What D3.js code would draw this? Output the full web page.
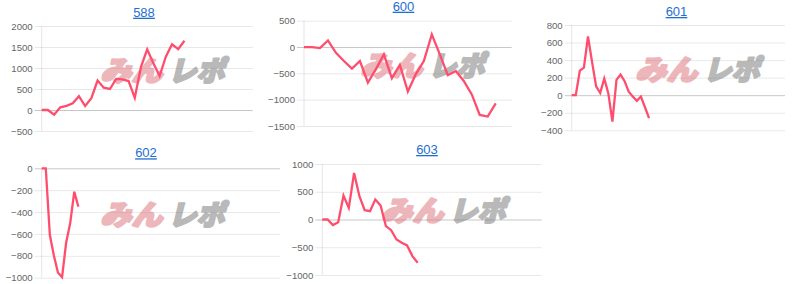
<!DOCTYPE html>
<html><head><meta charset="utf-8">
<script src="https://cdn.jsdelivr.net/npm/d3@7"></script>
<style>body{margin:0;background:#fff;} svg{display:block;}</style>
</head><body>
<svg id="c" width="800" height="284"></svg>
<script>
// ---- data ----
const titles = ["588", "600", "601", "602", "603"];
const values588 = [0, 0, -110, 65, 100, 160, 330, 95, 280, 700, 530, 500, 740, 730, 690, 290, 1030, 1445, 1110, 810, 1270, 1565, 1450, 1650];
const values600 = [0, 0, -20, 125, -110, -265, -410, -265, -675, -420, -140, -595, -340, -845, -515, -265, 240, -140, -535, -455, -645, -900, -1290, -1320, -1070];
const values601 = [0, 0, 280, 315, 670, 380, 100, 25, 190, 20, -300, 175, 235, 160, 40, -15, -65, -15, -137, -262];
const values602 = [0, 0, -610, -800, -955, -995, -680, -500, -214, -350];
const values603 = [0, 0, -100, -48, 432, 210, 840, 420, 168, 150, 360, 252, -120, -192, -360, -420, -468, -660, -780];
const ticks588 = [-500, 0, 500, 1000, 1500, 2000];
const ticks600 = [-1500, -1000, -500, 0, 500];
const ticks601 = [-400, -200, 0, 200, 400, 600, 800];
const ticks602 = [-1000, -800, -600, -400, -200, 0];
const ticks603 = [-1000, -500, 0, 500, 1000];
const watermarkA = "みん";
const watermarkB = "レポ";

// ---- layout ----
const layout = [
  {vals: values588, ticks: ticks588, left: 41.7, right: 252.7, top: 26, bottom: 131, slots: 34, tx: 144, ty: 16.7, wm: [92, 83]},
  {vals: values600, ticks: ticks600, left: 304, right: 511.7, top: 20.7, bottom: 126, slots: 26, tx: 403.5, ty: 10.7, wm: [352, 78]},
  {vals: values601, ticks: ticks601, left: 571.7, right: 785, top: 25, bottom: 130.3, slots: 52.4, tx: 676.5, ty: 16, wm: [627, 82]},
  {vals: values602, ticks: ticks602, left: 41.7, right: 280, top: 168.3, bottom: 277.7, slots: 58.5, tx: 146, ty: 157.3, wm: [92, 227]},
  {vals: values603, ticks: ticks603, left: 322.3, right: 541.7, top: 164, bottom: 275, slots: 41.4, tx: 427, ty: 154, wm: [373, 223]}
];

const svg = d3.select("#c");

layout.forEach((c, idx) => {
  const g = svg.append("g");
  const y = d3.scaleLinear().domain(d3.extent(c.ticks)).range([c.bottom, c.top]);
  const x = d3.scaleLinear().domain([0, c.slots]).range([c.left, c.right]);
  const w = c.right - c.left;

  // gridlines
  const grid = g.append("g").attr("transform", `translate(${c.left},0)`)
    .call(d3.axisLeft(y).tickValues(c.ticks).tickSize(-w).tickFormat(""));
  grid.select(".domain").remove();
  grid.selectAll(".tick line").attr("stroke", d => d === 0 ? "rgba(0,0,0,0.22)" : "rgba(0,0,0,0.09)").attr("stroke-width", 1);

  // tick marks + labels
  const ax = g.append("g").attr("transform", `translate(${c.left},0)`)
    .call(d3.axisLeft(y).tickValues(c.ticks).tickSize(7).tickPadding(2).tickFormat(d3.format("d")));
  ax.select(".domain").remove();
  ax.selectAll(".tick line").attr("stroke", d => d === 0 ? "rgba(0,0,0,0.22)" : "rgba(0,0,0,0.09)");
  ax.selectAll(".tick text").attr("fill", "#666").attr("font-size", "9.6px")
    .attr("font-family", "'Liberation Sans', Arial, sans-serif");

  // y axis line
  g.append("line").attr("x1", c.left).attr("x2", c.left).attr("y1", y.range()[1]).attr("y2", y.range()[0])
    .attr("stroke", "rgba(0,0,0,0.1)");

  // watermark
  const wg = g.append("g").attr("transform", `translate(${c.wm[0]},${c.wm[1]}) skewX(-14)`);
  wg.append("g").attr("opacity", 0.5).append("text").attr("x", 8).attr("y", -2).text(watermarkA)
    .attr("font-family", "'Noto Sans CJK JP', sans-serif").attr("font-weight", 900).attr("font-size", "28px")
    .attr("textLength", 62).attr("lengthAdjust", "spacingAndGlyphs")
    .attr("fill", "#dc6f78").attr("stroke", "#dc6f78").attr("stroke-width", 2.2).attr("stroke-linejoin", "round");
  wg.append("g").attr("opacity", 0.55).append("text").attr("x", 76).attr("y", -2).text(watermarkB)
    .attr("font-family", "'Noto Sans CJK JP', sans-serif").attr("font-weight", 900).attr("font-size", "28px")
    .attr("textLength", 56).attr("lengthAdjust", "spacingAndGlyphs")
    .attr("fill", "#808080").attr("stroke", "#808080").attr("stroke-width", 2.2).attr("stroke-linejoin", "round");

  // line
  const line = d3.line().x((d, i) => x(i)).y(d => y(d));
  g.append("path").datum(c.vals).attr("d", line).attr("fill", "none")
    .attr("stroke", "#ff4d6e").attr("stroke-width", 2.3).attr("stroke-linejoin", "miter");

  // title
  g.append("text").attr("x", c.tx).attr("y", c.ty).attr("text-anchor", "middle").text(titles[idx])
    .attr("font-family", "'Liberation Sans', Arial, sans-serif").attr("font-size", "13px")
    .attr("fill", "#1f6fd0").attr("text-decoration", "underline");
});
</script>
</body></html>
